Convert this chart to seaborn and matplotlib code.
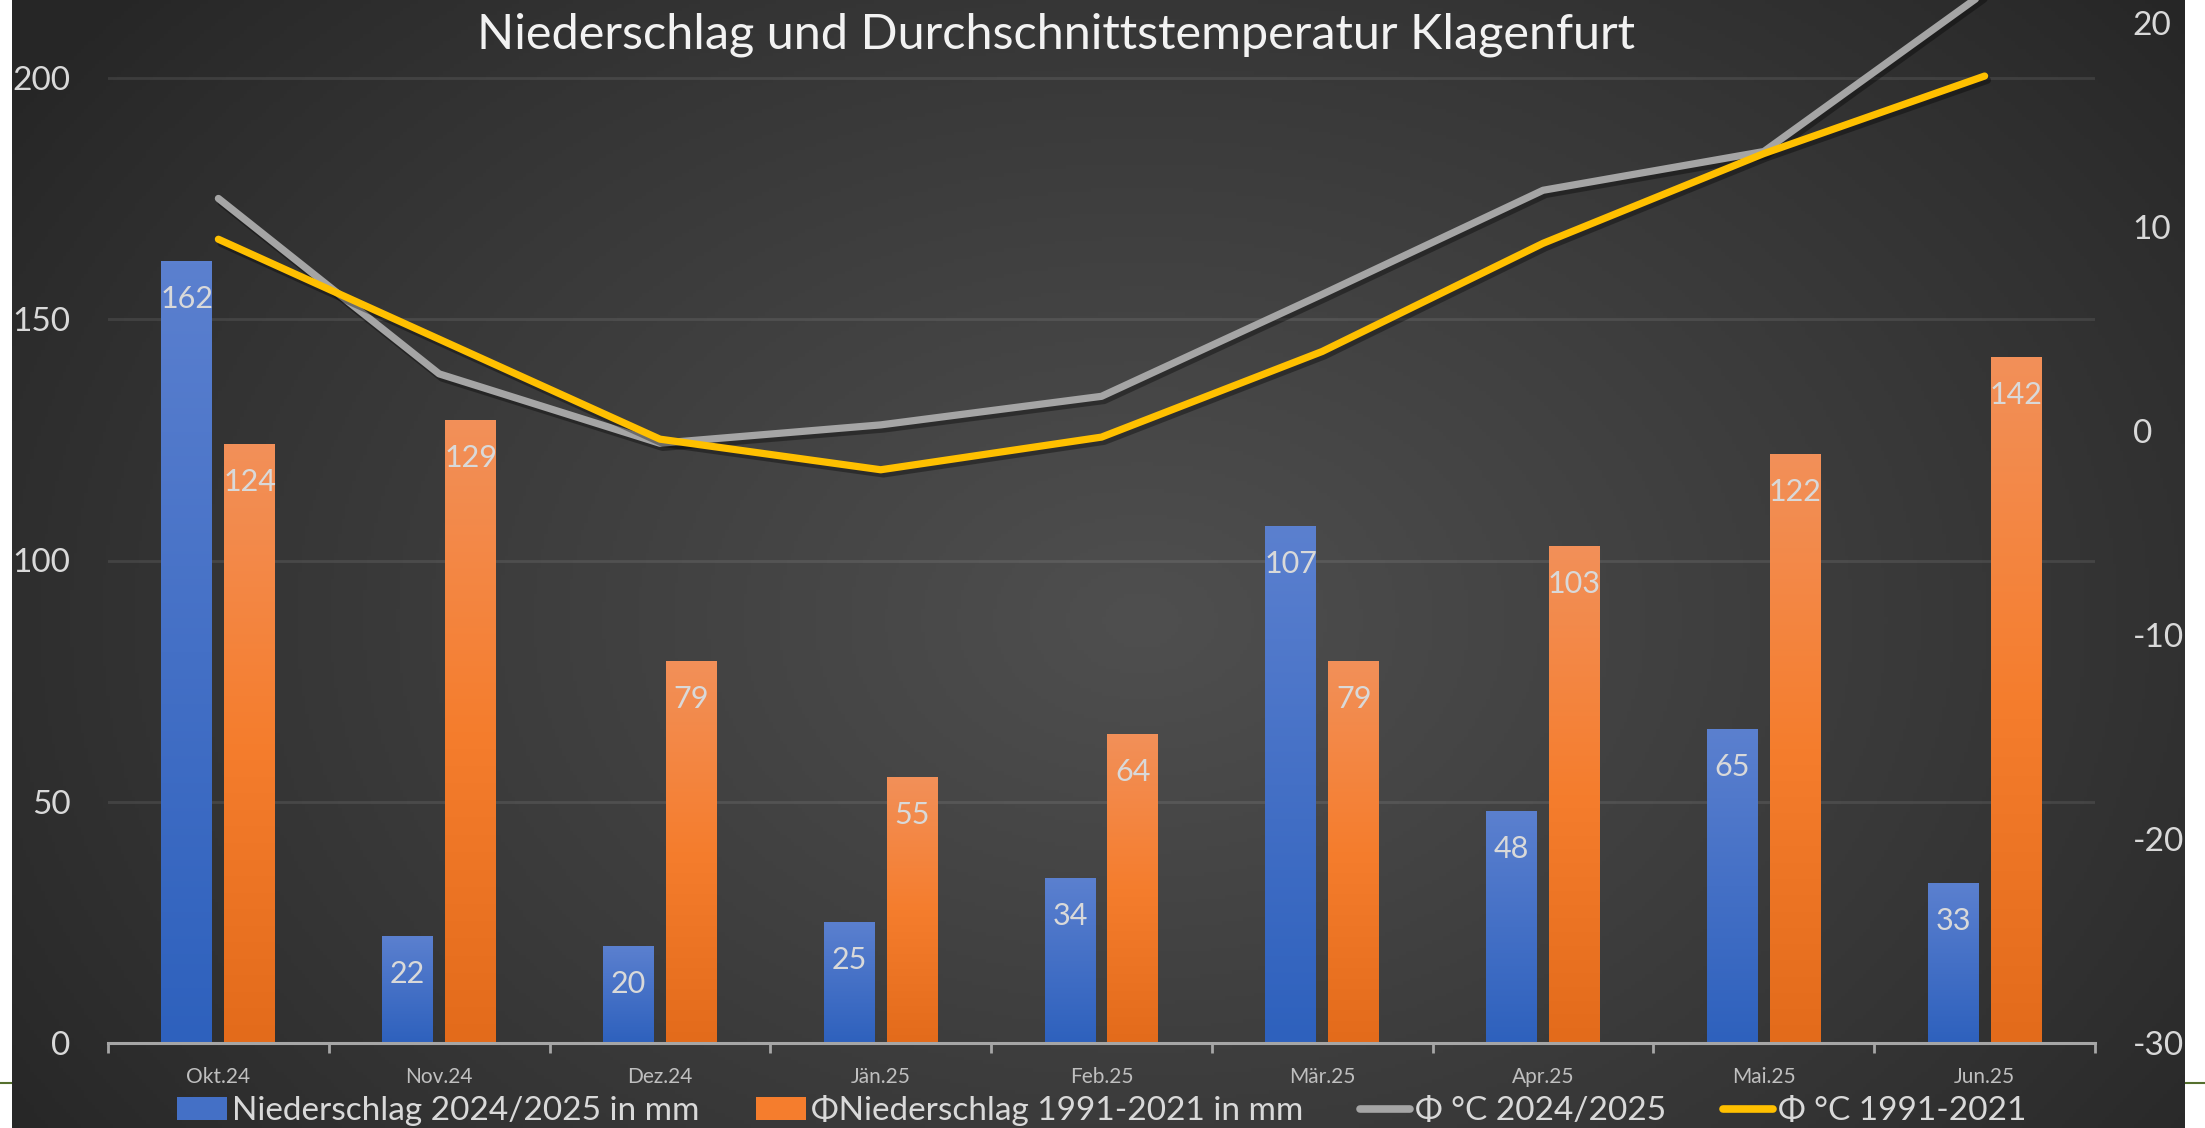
import numpy as np
import pandas as pd
import seaborn as sns
import matplotlib
matplotlib.use("Agg")
import matplotlib.pyplot as plt
from matplotlib import patheffects as pe
from matplotlib.colors import LinearSegmentedColormap
from matplotlib.lines import Line2D
from matplotlib.patches import Patch

# Data
months = ["Okt.24", "Nov.24", "Dez.24", "Jän.25", "Feb.25", "Mär.25", "Apr.25", "Mai.25", "Jun.25"]
rain_2425 = [162, 22, 20, 25, 34, 107, 48, 65, 33]
rain_avg = [124, 129, 79, 55, 64, 79, 103, 122, 142]
temp_2425 = [11.4, 2.8, -0.6, 0.3, 1.7, 6.7, 11.8, 13.7, 21.5]
temp_avg = [9.4, 4.5, -0.4, -1.9, -0.3, 3.9, 9.2, 13.6, 17.4]

bar_labels = ["Niederschlag 2024/2025 in mm", "ΦNiederschlag 1991-2021 in mm"]
line_labels = ["Φ °C 2024/2025", "Φ °C 1991-2021"]
title = "Niederschlag und Durchschnittstemperatur Klagenfurt"

# Colours
blue_stops = ["#5b80cf", "#4470c6", "#2e61bd"]
orange_stops = ["#f29059", "#f57d2d", "#e36b1b"]
gray = "#a5a5a5"
yellow = "#ffc000"
txt = "#d9d9d9"

plt.rcParams["font.family"] = ["Lato", "DejaVu Sans"]
plt.rcParams["axes.unicode_minus"] = False

W, H = 2205, 1128
fig = plt.figure(figsize=(W / 100, H / 100), dpi=100, facecolor="white")

# thin green rule peeking out left/right of the chart
fig.add_artist(Line2D([0, 1], [1 - 1083 / H] * 2, color="#55702e", lw=1.5, zorder=0))

# dark radial background
bg = fig.add_axes([12 / W, 0, (2185 - 12) / W, 1])
yy, xx = np.mgrid[0:1:300j, 0:1:600j]
r = np.sqrt(((xx - 0.52) / 0.62) ** 2 + ((yy - 0.55) / 0.85) ** 2)
v = 0.15 + 0.16 * np.clip(1 - r, 0, 1) ** 0.9
bg.imshow(np.dstack([v, v, v]), extent=[0, 1, 0, 1], aspect="auto")
bg.axis("off")

ax = fig.add_axes([108 / W, 1 - 1043 / H, (2095 - 108) / W, (1043 - 23) / H])
ax.set_facecolor("none")

df_rain = pd.DataFrame({
    "Monat": months * 2,
    "mm": rain_2425 + rain_avg,
    "Serie": [bar_labels[0]] * len(months) + [bar_labels[1]] * len(months),
})
sns.barplot(data=df_rain, x="Monat", y="mm", hue="Serie", order=months,
            palette=[blue_stops[1], orange_stops[1]], width=0.57, gap=0.19,
            ax=ax, legend=False, err_kws={"linewidth": 0})

ymax_left = 200 * (1043 - 23) / (1043 - 78)

# gradient fill + value labels per bar
for cont, stops, vals in zip(ax.containers, [blue_stops, orange_stops], [rain_2425, rain_avg]):
    cmap = LinearSegmentedColormap.from_list("g", stops)
    img = cmap(np.linspace(0, 1, 256))[:, None, :]
    for bar, val in zip(cont, vals):
        x0, y0, w, h = bar.get_x(), bar.get_y(), bar.get_width(), bar.get_height()
        ax.imshow(img, extent=[x0, x0 + w, y0, y0 + h], aspect="auto", origin="upper", zorder=2)
        bar.set_visible(False)
        ax.annotate(f"{val}", xy=(x0 + w / 2, y0 + h), xytext=(0, -27), textcoords="offset points",
                    ha="center", va="center", fontsize=22, color=txt, zorder=3)

ax.set_xlim(-0.5, len(months) - 0.5)
ax.set_ylim(0, ymax_left)
ax.set_yticks([0, 50, 100, 150, 200])
ax.set_xlabel("")
ax.set_ylabel("")
ax.set_axisbelow(True)
ax.yaxis.grid(True, color="#ffffff", alpha=0.09, lw=2)
ax.xaxis.grid(False)
for s in ["top", "left", "right"]:
    ax.spines[s].set_visible(False)
ax.spines["bottom"].set_color("#a6a6a6")
ax.spines["bottom"].set_linewidth(2.2)
ax.spines["bottom"].set_zorder(4)
ax.tick_params(axis="y", length=0, pad=27, labelsize=24, labelcolor=txt)
ax.set_xticks(range(len(months)), months)
ax.set_xticks(np.arange(-0.5, len(months), 1), minor=True)
ax.tick_params(axis="x", which="major", length=0, pad=17, labelsize=15, labelcolor="#bfbfbf")
ax.tick_params(axis="x", which="minor", length=7, width=2, color="#a6a6a6")

# temperature lines on secondary axis
ax2 = ax.twinx()
df_temp = pd.DataFrame({
    "pos": list(range(len(months))) * 2,
    "temp": temp_2425 + temp_avg,
    "Serie": [line_labels[0]] * len(months) + [line_labels[1]] * len(months),
})
sns.lineplot(data=df_temp, x="pos", y="temp", hue="Serie", palette=[gray, yellow],
             lw=5.2, ax=ax2, legend=False, sort=False)
for ln in ax2.lines:
    ln.set_solid_capstyle("round")
    ln.set_solid_joinstyle("round")
    ln.set_clip_on(False)
    ln.set_path_effects([pe.SimpleLineShadow(offset=(2, -3), shadow_color="black", alpha=0.35),
                         pe.Normal()])
ax2.set_ylim(-30, 20)
ax2.set_yticks([-30, -20, -10, 0, 10, 20])
ax2.set_xlim(-0.5, len(months) - 0.5)
ax2.set_xlabel("")
ax2.set_ylabel("")
for s in ax2.spines.values():
    s.set_visible(False)
ax2.tick_params(axis="y", length=0, pad=27, labelsize=24, labelcolor=txt)

fig.text(1056 / W, 1 - 35 / H, title, ha="center", va="center", fontsize=35, color="#f2f2f2")

handles = [Patch(facecolor=blue_stops[1]), Patch(facecolor=orange_stops[1]),
           Line2D([], [], color=gray, lw=5.5, solid_capstyle="round"),
           Line2D([], [], color=yellow, lw=5.5, solid_capstyle="round")]
fig.legend(handles, bar_labels + line_labels, loc="center", bbox_to_anchor=(1102 / W, 1 - 1111 / H),
           ncol=4, frameon=False, fontsize=24, labelcolor=txt, handlelength=1.5,
           handleheight=0.68, handletextpad=0.15, columnspacing=1.7)

fig.savefig("out.png", dpi=100)
